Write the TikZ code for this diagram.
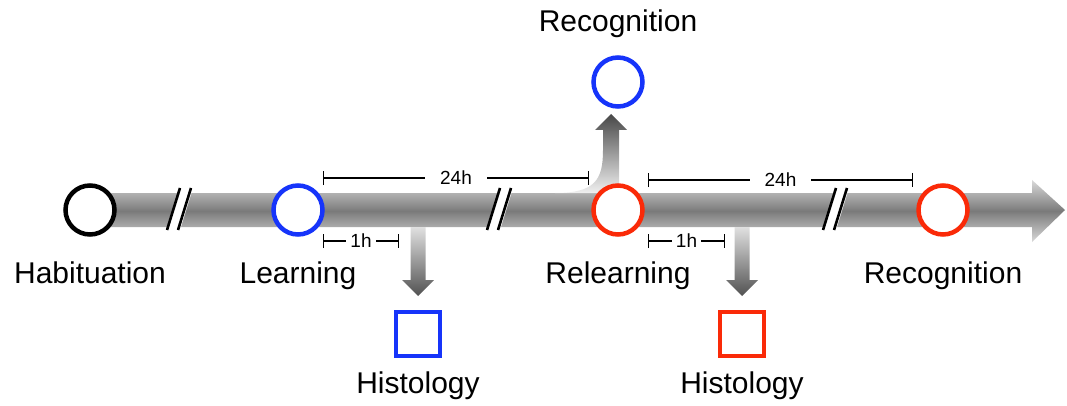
\documentclass[tikz,border=0pt]{standalone}
\usepackage{fontspec}
\setmainfont{Liberation Sans}
\usetikzlibrary{arrows.meta}

\definecolor{stageblue}{RGB}{22,52,250}
\definecolor{stagered}{RGB}{250,42,8}

% pause mark on the time bar
\newcommand{\pausemark}[1]{
    \fill[white] (#1-13,230) -- (#1,188) -- (#1+13,188) -- (#1,230) -- cycle;
    \draw[line width = 2.6pt] (#1-13,230) -- (#1,188) (#1-2,230) -- (#1+11,188);
}
% short arrow down to the histology box
\newcommand{\dropto}[1]{
    \shade[top color = black!12, bottom color = black!68]
        (#1-7.5,227) -- (#1-7.5,280) -- (#1-16,280) -- (#1,296)
        -- (#1+16,280) -- (#1+7.5,280) -- (#1+7.5,227) -- cycle;
}

\begin{document}
\begin{tikzpicture}[x = 1pt, y = -1pt,
    stage/.style = {circle, line width = 4.5pt, fill = white, minimum size = 49pt, inner sep = 0pt},
    histo/.style = {rectangle, line width = 4.5pt, fill = white, minimum size = 44pt, inner sep = 0pt},
    lbl/.style = {anchor = base, font = \fontsize{30}{34}\selectfont},
    span/.style = {line width = 1.3pt, {Bar[width = 14pt]}-{Bar[width = 14pt]}},
    spanlbl/.style = {fill = white, font = \fontsize{19}{22}\selectfont}]
    \useasboundingbox (0,0) rectangle (1067,406);

    % time bar
    \shade[top color = black!15, bottom color = black!15, middle color = black!52]
        (90,193) -- (1032,193) -- (1032,180) -- (1065,210) -- (1032,242) -- (1032,227) -- (90,227) -- cycle;
    % branch up to recognition
    \shade[top color = black!72, bottom color = black!6]
        (555,193) .. controls (595,193) and (603,180) .. (603,150) -- (603,130) -- (595,130) -- (611,114)
        -- (627,130) -- (619,130) -- (619,193) -- cycle;
    \dropto{418}
    \dropto{742}

    \pausemark{180}
    \pausemark{500}
    \pausemark{836}

    % intervals
    \draw[span] (323,178) -- (589,178) node[midway, spanlbl, inner xsep = 15pt]{24h};
    \draw[span] (648,180) -- (913,180) node[midway, spanlbl, inner xsep = 15pt]{24h};
    \draw[span] (323,241) -- (399,241) node[midway, spanlbl, inner xsep = 4pt]{1h};
    \draw[span] (648,241) -- (725,241) node[midway, spanlbl, inner xsep = 4pt]{1h};

    % stages
    \node[stage, draw = black] (hab) at (90,210) {};
    \node[stage, draw = stageblue] (learn) at (298,210) {};
    \node[stage, draw = stagered] (relearn) at (618,210) {};
    \node[stage, draw = stagered] (recog) at (943,210) {};
    \node[stage, draw = stageblue] (recogup) at (618,82) {};
    \node[histo, draw = stageblue] (histoA) at (418,334) {};
    \node[histo, draw = stagered] (histoB) at (742,334) {};

    \node[lbl] (habtxt) at (90,283) {Habituation};
    \node[lbl] (learntxt) at (298,283) {Learning};
    \node[lbl] (relearntxt) at (618,283) {Relearning};
    \node[lbl] (recogtxt) at (943,283) {Recognition};
    \node[lbl] (recoguptxt) at (618,32) {Recognition};
    \node[lbl] (histoAtxt) at (418,393) {Histology};
    \node[lbl] (histoBtxt) at (742,393) {Histology};
\end{tikzpicture}
\end{document}
